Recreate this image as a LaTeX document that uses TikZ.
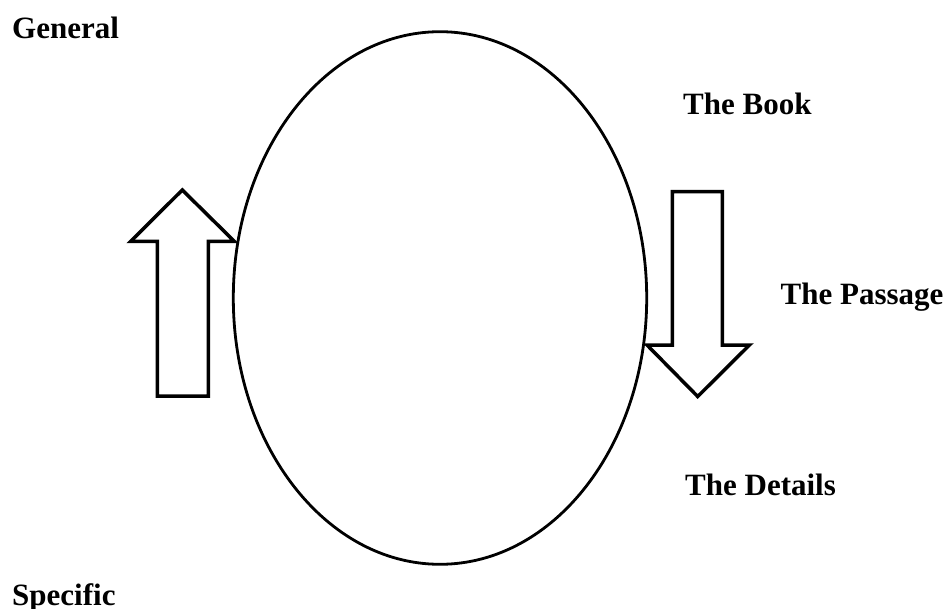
\documentclass[tikz,border=0pt]{standalone}
\usepackage{fontspec}
\setmainfont{Liberation Serif}
\usetikzlibrary{shapes.geometric}
\begin{document}
\begin{tikzpicture}[x=1pt,y=-1pt,
  lbl/.style={anchor=base west,inner sep=0pt,font=\fontsize{31}{36}\selectfont\bfseries},
  bigarrow/.style={draw=black,line width=3.5pt,line join=miter,fill=white}]
\useasboundingbox (0,0) rectangle (949,609);
\node[draw=black,line width=2.8pt,ellipse,minimum width=413.4pt,minimum height=532.6pt,inner sep=0pt] (ell) at (440,298) {};
% up arrow
\draw[bigarrow] (157.3,396) -- (157.3,241.5) -- (130.5,241.5) -- (182.3,190) -- (234.5,241.5) -- (208.3,241.5) -- (208.3,396) -- cycle;
% down arrow
\draw[bigarrow] (672.3,191.7) -- (722.3,191.7) -- (722.3,345) -- (749.5,345) -- (697.7,396.5) -- (647,345) -- (672.3,345) -- cycle;
\node[lbl] (gen) at (12,39) {General};
\node[lbl] (book) at (683,115) {The Book};
\node[lbl] (pass) at (780.5,304) {The Passage};
\node[lbl] (det) at (685,495) {The Details};
\node[lbl] (spec) at (12,605) {Specific};
\end{tikzpicture}
\end{document}
